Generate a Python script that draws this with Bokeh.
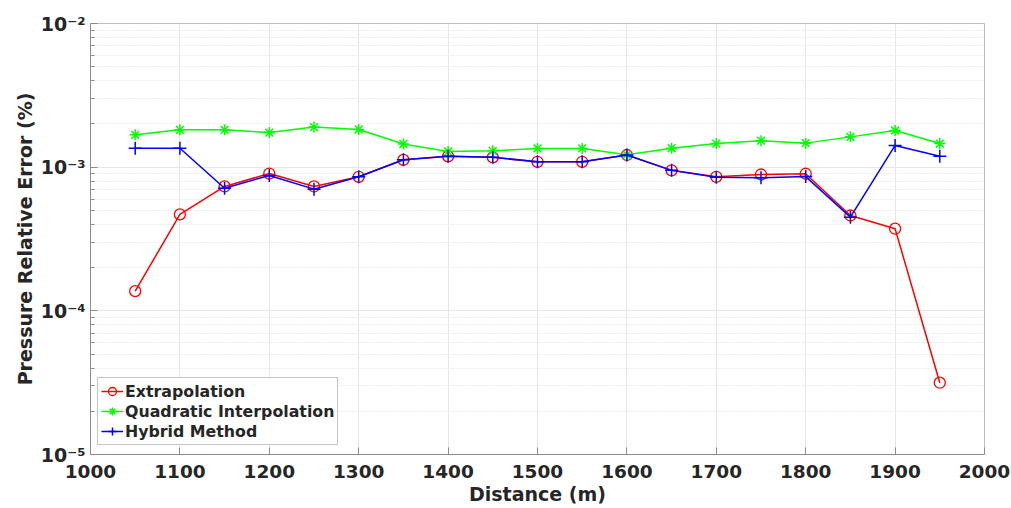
from bokeh.plotting import figure
from bokeh.models import Range1d, FixedTicker, Legend, LegendItem
from bokeh.embed import file_html
from bokeh.resources import INLINE

distance = [1050, 1100, 1150, 1200, 1250, 1300, 1350, 1400, 1450, 1500,
            1550, 1600, 1650, 1700, 1750, 1800, 1850, 1900, 1950]
extrapolation = [1.37e-4, 4.69e-4, 7.34e-4, 9.03e-4, 7.34e-4, 8.57e-4, 1.125e-3, 1.19e-3, 1.17e-3, 1.09e-3,
                 1.09e-3, 1.215e-3, 9.5e-4, 8.57e-4, 8.89e-4, 9.0e-4, 4.61e-4, 3.73e-4, 3.16e-5]
quadratic = [1.68e-3, 1.82e-3, 1.82e-3, 1.74e-3, 1.90e-3, 1.83e-3, 1.45e-3, 1.285e-3, 1.30e-3, 1.35e-3,
             1.35e-3, 1.22e-3, 1.355e-3, 1.46e-3, 1.53e-3, 1.47e-3, 1.625e-3, 1.80e-3, 1.46e-3]
hybrid = [1.355e-3, 1.355e-3, 7.14e-4, 8.75e-4, 7.03e-4, 8.57e-4, 1.125e-3, 1.19e-3, 1.17e-3, 1.09e-3,
          1.09e-3, 1.215e-3, 9.5e-4, 8.5e-4, 8.45e-4, 8.6e-4, 4.49e-4, 1.416e-3, 1.19e-3]

x_ticks = [1000, 1100, 1200, 1300, 1400, 1500, 1600, 1700, 1800, 1900, 2000]
y_ticks = [1e-5, 1e-4, 1e-3, 1e-2]
y_tick_labels = ["10\u207b\u2075", "10\u207b\u2074", "10\u207b\u00b3", "10\u207b\u00b2"]

FONT = "DejaVu Sans"
TXT = "#262626"

p = figure(width=1011, height=508, output_backend="svg", toolbar_location=None,
           x_range=Range1d(1000, 2000), y_range=Range1d(1e-5, 1e-2), y_axis_type="log",
           min_border_left=90, min_border_right=27, min_border_top=23, min_border_bottom=54)
p.background_fill_color = "white"
p.border_fill_color = "white"
p.outline_line_color = "#bdbdbd"
p.outline_line_width = 1

minor_y = [m * d for d in [1e-5, 1e-4, 1e-3] for m in range(2, 10)]
p.xaxis.ticker = FixedTicker(ticks=x_ticks)
p.yaxis.ticker = FixedTicker(ticks=y_ticks, minor_ticks=minor_y)
p.yaxis.major_label_overrides = {t: l for t, l in zip(y_ticks, y_tick_labels)}

for ax in (p.xaxis[0], p.yaxis[0]):
    ax.axis_line_color = "#8c8c8c"
    ax.major_tick_line_color = "#8c8c8c"
    ax.major_tick_in = 7
    ax.major_tick_out = 0
    ax.minor_tick_in = 4
    ax.minor_tick_out = 0
    ax.minor_tick_line_color = "#8c8c8c"
    ax.major_label_text_font = FONT
    ax.major_label_text_font_style = "bold"
    ax.major_label_text_font_size = "18.5px"
    ax.major_label_text_color = TXT
    ax.axis_label_text_font = FONT
    ax.axis_label_text_font_style = "bold"
    ax.axis_label_text_font_size = "19px"
    ax.axis_label_text_color = TXT
p.yaxis.major_label_text_font_size = "19px"
p.xaxis.minor_tick_line_color = None
p.xaxis.major_label_standoff = 10
p.xaxis.axis_label_standoff = 2
p.yaxis.major_label_standoff = 5
p.yaxis.axis_label_standoff = 2
p.xaxis.axis_label = "Distance (m)"
p.yaxis.axis_label = "Pressure Relative Error (%)"

p.xgrid.grid_line_color = "#e6e6e6"
p.ygrid.grid_line_color = "#e6e6e6"
p.ygrid.minor_grid_line_color = "#ececec"
p.ygrid.minor_grid_line_dash = "2 1"

r1 = p.line(distance, extrapolation, line_color="#ff0000", line_width=1.5)
s1 = p.scatter(distance, extrapolation, marker="circle", size=11, fill_color=None,
               line_color="#ff0000", line_width=1.3)
r2 = p.line(distance, quadratic, line_color="#00ff00", line_width=1.5)
s2 = p.scatter(distance, quadratic, marker="asterisk", size=11, line_color="#00ff00", line_width=1.5)
r3 = p.line(distance, hybrid, line_color="#0000ff", line_width=1.5)
s3 = p.scatter(distance, hybrid, marker="cross", size=13, line_color="#0000ff", line_width=1.5)

legend = Legend(items=[
    LegendItem(label="Extrapolation", renderers=[r1, s1]),
    LegendItem(label="Quadratic Interpolation", renderers=[r2, s2]),
    LegendItem(label="Hybrid Method", renderers=[r3, s3]),
], location=(7, 9))
legend.label_text_font = FONT
legend.label_text_font_style = "bold"
legend.label_text_font_size = "15.8px"
legend.label_text_color = TXT
legend.border_line_color = "#8c8c8c"
legend.border_line_width = 1
legend.background_fill_alpha = 1
legend.padding = 3
legend.spacing = 0
legend.margin = 0
legend.glyph_width = 22
legend.glyph_height = 20
legend.label_height = 20
legend.label_standoff = 2
p.add_layout(legend, "center")

open("out.html", "w").write(file_html(p, INLINE))
